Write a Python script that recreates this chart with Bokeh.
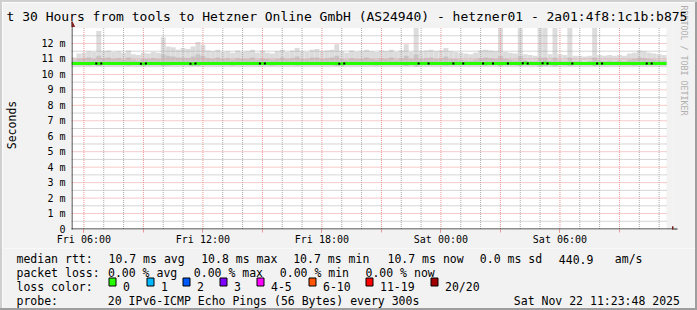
import pandas as pd
from bokeh.plotting import figure
from bokeh.models import (Range1d, FixedTicker, DatetimeTickFormatter, Title,
                          Arrow, NormalHead, Spacer)
from bokeh.layouts import column, row
from bokeh.core.properties import value
from bokeh.embed import file_html
from bokeh.resources import INLINE

# ---------------- data ----------------
start_time = "2025-11-21 05:22:30"
step_minutes = 15
span_hours = 30

smoke_top = [
    11.1, 11.35, 11.4, 11.5, 11.45, 12.8, 11.5, 11.55, 11.45, 11.5,
    11.4, 11.55, 11.3, 11.25, 11.4, 11.35, 11.45, 11.4, 12.4, 11.8,
    11.75, 11.6, 11.7, 11.65, 11.8, 12.1, 11.9, 11.55, 11.5, 11.6,
    11.45, 11.5, 11.4, 11.55, 11.45, 11.5, 11.6, 11.4, 11.55, 11.4,
    11.35, 11.5, 11.6, 11.45, 11.55, 11.7, 11.5, 11.45, 11.6, 11.65,
    11.5, 11.55, 11.6, 11.95, 11.5, 11.4, 11.55, 11.45, 11.5, 11.6,
    11.5, 11.45, 11.55, 11.5, 11.6, 11.45, 11.55, 11.95, 11.45, 13.0,
    11.5, 11.55, 11.6, 11.5, 11.55, 11.7, 11.5, 11.45, 11.4, 11.35,
    11.3, 11.4, 11.55, 11.6, 11.55, 11.5, 13.0, 11.45, 11.4, 11.35,
    13.0, 11.3, 11.25, 11.2, 13.0, 13.0, 11.3, 13.0, 11.3, 11.25,
    13.0, 11.2, 11.2, 11.15, 11.2, 13.0, 11.25, 11.2, 11.25, 11.2,
    11.25, 11.2, 11.35, 11.4, 11.55, 11.5, 11.4, 11.35, 11.3, 11.25]

smoke_mid = [
    10.9, 11.0, 11.05, 11.1, 11.0, 11.2, 11.05, 11.1, 11.0, 11.05,
    10.95, 11.1, 10.95, 10.9, 11.0, 11.0, 11.05, 11.0, 11.3, 11.2,
    11.15, 11.1, 11.1, 11.05, 11.15, 11.3, 11.2, 11.05, 11.0, 11.1,
    11.0, 11.05, 10.95, 11.05, 11.0, 11.0, 11.1, 10.95, 11.05, 11.0,
    10.95, 11.0, 11.1, 11.0, 11.05, 11.15, 11.0, 11.0, 11.1, 11.1,
    11.0, 11.05, 11.1, 11.2, 11.0, 10.95, 11.05, 11.0, 11.0, 11.1,
    11.0, 10.95, 11.05, 11.0, 11.1, 10.95, 11.05, 11.2, 11.0, 11.3,
    11.0, 11.05, 11.1, 11.0, 11.05, 11.15, 11.0, 11.0, 10.95, 10.9,
    10.9, 10.95, 11.05, 11.1, 11.05, 11.0, 11.2, 11.0, 10.95, 10.9,
    11.2, 10.9, 10.85, 10.85, 11.1, 11.1, 10.9, 11.1, 10.9, 10.85,
    11.1, 10.85, 10.85, 10.8, 10.85, 11.1, 10.9, 10.85, 10.9, 10.85,
    10.9, 10.85, 10.95, 11.0, 11.1, 11.05, 11.0, 10.95, 10.9, 10.9]

smoke_low = [
    10.58, 10.57, 10.58, 10.56, 10.58, 10.55, 10.57, 10.58, 10.58, 10.57,
    10.58, 10.56, 10.58, 10.58, 10.57, 10.57, 10.58, 10.58, 10.55, 10.56,
    10.57, 10.58, 10.57, 10.58, 10.56, 10.55, 10.57, 10.58, 10.58, 10.57,
    10.58, 10.58, 10.56, 10.57, 10.58, 10.58, 10.57, 10.58, 10.58, 10.57,
    10.56, 10.58, 10.57, 10.58, 10.58, 10.56, 10.58, 10.57, 10.58, 10.58,
    10.57, 10.58, 10.58, 10.55, 10.58, 10.57, 10.58, 10.58, 10.57, 10.58,
    10.58, 10.56, 10.58, 10.57, 10.58, 10.58, 10.57, 10.55, 10.58, 10.52,
    10.58, 10.57, 10.58, 10.58, 10.57, 10.56, 10.58, 10.58, 10.57, 10.58,
    10.58, 10.57, 10.58, 10.56, 10.57, 10.58, 10.53, 10.58, 10.57, 10.58,
    10.54, 10.58, 10.57, 10.58, 10.53, 10.54, 10.58, 10.53, 10.57, 10.58,
    10.54, 10.58, 10.57, 10.58, 10.58, 10.54, 10.57, 10.58, 10.58, 10.57,
    10.58, 10.57, 10.58, 10.56, 10.57, 10.58, 10.57, 10.58, 10.58, 10.57]

median_rtt = [
    10.70, 10.70, 10.70, 10.70, 10.70, 10.71, 10.70, 10.70, 10.70, 10.70,
    10.70, 10.70, 10.70, 10.70, 10.69, 10.70, 10.70, 10.70, 10.70, 10.70,
    10.70, 10.70, 10.70, 10.70, 10.69, 10.70, 10.70, 10.70, 10.70, 10.70,
    10.70, 10.70, 10.70, 10.70, 10.70, 10.70, 10.70, 10.70, 10.71, 10.70,
    10.70, 10.70, 10.70, 10.70, 10.70, 10.70, 10.70, 10.70, 10.70, 10.70,
    10.70, 10.70, 10.70, 10.70, 10.69, 10.70, 10.70, 10.70, 10.70, 10.70,
    10.70, 10.70, 10.70, 10.70, 10.70, 10.70, 10.70, 10.70, 10.70, 10.70,
    10.71, 10.71, 10.70, 10.70, 10.70, 10.70, 10.70, 10.71, 10.71, 10.70,
    10.70, 10.70, 10.70, 10.71, 10.71, 10.70, 10.70, 10.70, 10.71, 10.71,
    10.71, 10.72, 10.71, 10.71, 10.71, 10.72, 10.71, 10.71, 10.71, 10.71,
    10.71, 10.70, 10.70, 10.70, 10.70, 10.70, 10.71, 10.70, 10.70, 10.70,
    10.70, 10.70, 10.70, 10.70, 10.70, 10.70, 10.71, 10.70, 10.70, 10.70]

y_tick_values = list(range(0, 13))
y_tick_labels = ["0"] + [f"{v} m" for v in range(1, 13)]
y_canvas_top = 13.0
x_label_hours = 6
x_major_grid_hours = 3

loss_labels = ["0", "1", "2", "3", "4-5", "6-10", "11-19", "20/20"]
loss_colors = ["#26ff00", "#00b8ff", "#0059ff", "#7e00ff",
               "#ff00ff", "#ff5500", "#ff0000", "#a10000"]

title_text = "t 30 Hours from tools to Hetzner Online GmbH (AS24940) - hetzner01 - 2a01:4f8:1c1b:b875"
watermark_text = "RRDTOOL / TOBI OETIKER"
rtt_items = ["median rtt:", "10.7 ms avg", "10.8 ms max", "10.7 ms min",
             "10.7 ms now", "0.0 ms sd", "440.9", "am/s"]
loss_items = ["packet loss:", "0.00 % avg", "0.00 % max", "0.00 % min", "0.00 % now"]
probe_items = ["probe:", "20 IPv6-ICMP Echo Pings (56 Bytes) every 300s",
               "Sat Nov 22 11:23:48 2025"]

# ---------------- layout constants ----------------
MONO = "DejaVu Sans Mono"
BACK = "#F2F2F2"
SHADEA = "#CFCFCF"
SHADEB = "#9E9E9E"
MGRID = "#EB9595"
GRID = "#ABABAB"
AXIS = "#1F1F1F"
ARROW = "#801F1F"
PX_PER_HOUR = 20.0
PX_PER_MS = 15.46

MW, MH = 693, 246          # main figure (inside 2px bevel)
F_L, F_R, F_T, F_B = 64, 671, 18, 227   # frame edges, local px
LW, LH = 693, 60           # legend figure

t0 = pd.Timestamp(start_time)
t_end = t0 + pd.Timedelta(hours=span_hours)
x_end = t0 + pd.Timedelta(hours=(F_R - F_L) / PX_PER_HOUR)
y_start = -0.5 / PX_PER_MS
y_end = y_start + (F_B - F_T) / PX_PER_MS

n = len(smoke_top)
lefts = [t0 + pd.Timedelta(minutes=step_minutes * k) for k in range(n)]
rights = [t + pd.Timedelta(minutes=step_minutes) for t in lefts]

def ms(ts):
    return ts.value / 1e6

hours = []
h = t0.ceil("h")
while h <= t_end:
    hours.append(h)
    h += pd.Timedelta(hours=1)
label_ticks = [ms(h) for h in hours if h.hour % x_label_hours == 0]
grid3 = [h for h in hours if h.hour % x_major_grid_hours == 0]
grid1 = [h for h in hours if h.hour % x_major_grid_hours != 0]

# ---------------- main figure ----------------
p = figure(width=MW, height=MH, x_axis_type="datetime",
           x_range=Range1d(t0, x_end), y_range=Range1d(y_start, y_end),
           output_backend="svg", toolbar_location=None,
           min_border_left=F_L, min_border_right=MW - F_R,
           min_border_top=F_T, min_border_bottom=MH - F_B)
p.frame_align = False
p.background_fill_color = BACK
p.border_fill_color = BACK
p.outline_line_color = None
p.xgrid.visible = False
p.ygrid.visible = False

p.title.text = title_text
p.title.align = "left"
p.title.offset = -65
p.title.standoff = -7
p.title.text_font = MONO
p.title.text_font_size = "13px"
p.title.text_font_style = "normal"
p.title.text_color = "black"

p.add_layout(Title(text=watermark_text, align="left", offset=-15, standoff=10,
                   text_font=MONO, text_font_size="8.3px",
                   text_font_style="normal", text_color="#B0B0B0"), "right")

# white canvas
p.quad(left=[t0], right=[t_end], bottom=[0], top=[y_canvas_top],
       fill_color="white", line_color=None)
# smoke
p.quad(left=lefts, right=rights, bottom=smoke_low, top=smoke_top,
       fill_color="#DCDCDC", line_color=None)
p.quad(left=lefts, right=rights, bottom=smoke_low, top=smoke_mid,
       fill_color="#C6C6C6", line_color=None)
# grid
p.segment(x0=grid1, y0=0, x1=grid1, y1=y_canvas_top, line_color=GRID,
          line_dash="1 1", line_width=1)
p.segment(x0=grid3, y0=0, x1=grid3, y1=y_canvas_top, line_color=MGRID,
          line_dash="1 1", line_width=1)
hy_minor = [v + 0.5 for v in range(0, 13)]
hy_major = list(range(1, 13))
p.segment(x0=t0, y0=hy_minor, x1=t_end, y1=hy_minor, line_color=GRID,
          line_dash="1 1", line_width=1)
p.segment(x0=t0, y0=hy_major, x1=t_end, y1=hy_major, line_color=MGRID,
          line_dash="1 1", line_width=1)

# median
p.step(x=lefts + [rights[-1]], y=median_rtt + [median_rtt[-1]], mode="after",
       line_color=loss_colors[0], line_width=3)
chg_x = [lefts[k] for k in range(1, n) if median_rtt[k] != median_rtt[k - 1]]
chg_y = [median_rtt[k] for k in range(1, n) if median_rtt[k] != median_rtt[k - 1]]
p.scatter(x=chg_x, y=chg_y, marker="square", size=2, fill_color="black",
          line_color=None)

# axes
xa = p.xaxis[0]
xa.ticker = FixedTicker(ticks=label_ticks, minor_ticks=[ms(h) for h in grid3])
fmt = "%a %H:%M"
xa.formatter = DatetimeTickFormatter(hours=fmt, hourmin=fmt, days=fmt, minutes=fmt,
                                     minsec=fmt, months=fmt, years=fmt)
xa.axis_line_color = None
xa.major_tick_in = 0
xa.major_tick_out = 3
xa.major_tick_line_color = MGRID
xa.minor_tick_in = 0
xa.minor_tick_out = 3
xa.minor_tick_line_color = MGRID
xa.major_label_standoff = 1
xa.major_label_text_font = MONO
xa.major_label_text_font_size = "10px"
xa.major_label_text_color = "black"

ya = p.yaxis[0]
ya.ticker = FixedTicker(ticks=y_tick_values)
ya.major_label_overrides = dict(zip(y_tick_values, y_tick_labels))
ya.axis_line_color = None
ya.major_tick_in = 0
ya.major_tick_out = 0
ya.minor_tick_line_color = None
ya.major_label_standoff = 6
ya.major_label_text_font = MONO
ya.major_label_text_font_size = "10px"
ya.major_label_text_color = "black"
ya.axis_label = "Seconds"
ya.axis_label_text_font = MONO
ya.axis_label_text_font_size = "11.5px"
ya.axis_label_text_font_style = "normal"
ya.axis_label_text_color = "black"
ya.axis_label_standoff = 19

fh = F_B - F_T
fw = F_R - F_L
p.add_layout(Arrow(end=NormalHead(size=5, fill_color=ARROW, line_color=ARROW),
                   x_start=0.5, y_start=-3, x_end=0.5, y_end=fh - 1,
                   start_units="screen", end_units="screen",
                   line_color=AXIS, line_width=1))
p.add_layout(Arrow(end=NormalHead(size=5, fill_color=ARROW, line_color=ARROW),
                   x_start=-3, y_start=0.5, x_end=fw - 1, y_end=0.5,
                   start_units="screen", end_units="screen",
                   line_color=AXIS, line_width=1))

# ---------------- legend figure (canvas pixel coordinates) ----------------
q = figure(width=LW, height=LH, x_range=Range1d(2, 2 + LW),
           y_range=Range1d(248 + LH, 248), output_backend="svg",
           toolbar_location=None, x_axis_location=None, y_axis_location=None,
           min_border_left=0, min_border_right=0, min_border_top=0,
           min_border_bottom=0)
q.frame_align = False
q.title.visible = False
q.xgrid.visible = False
q.ygrid.visible = False
q.outline_line_color = None
q.background_fill_color = BACK
q.border_fill_color = BACK

tx, ty, tt = [], [], []
for xx, t in zip([16, 108, 200.7, 292.7, 387, 479.3, 558.3, 614.3], rtt_items):
    tx.append(xx); ty.append(258.5); tt.append(t)
for xx, t in zip([16, 107.5, 193.3, 279.3, 365], loss_items):
    tx.append(xx); ty.append(272.5); tt.append(t)
tx.append(16); ty.append(286); tt.append("loss color:")
box_x = [108.5, 146.5, 182.5, 219.5, 256.5, 308.5, 365.5, 430.5]
for bx, lab in zip(box_x, loss_labels):
    tx.append(bx + 14); ty.append(286); tt.append(lab)
for xx, t in zip([16, 107.3, 513.3], probe_items):
    tx.append(xx); ty.append(300); tt.append(t)
q.text(x=tx, y=ty, text=tt, text_font=value(MONO), text_font_size=value("11.5px"),
       text_color="black", text_baseline="alphabetic", text_align="left")
q.quad(left=box_x, right=[b + 7 for b in box_x], top=277.5, bottom=285.5,
       fill_color=loss_colors, line_color="black", line_width=1)

# ---------------- bevel + layout ----------------
def strip(w, hgt, c):
    return Spacer(width=w, height=hgt, margin=0, styles={"background-color": c})

inner = column(p, q, spacing=0)
mid = row(strip(2, MH + LH, SHADEA), inner, strip(2, MH + LH, SHADEB), spacing=0)
layout = column(strip(697, 2, SHADEA), mid, strip(697, 2, SHADEB), spacing=0)

open("out.html", "w").write(file_html(layout, INLINE))
